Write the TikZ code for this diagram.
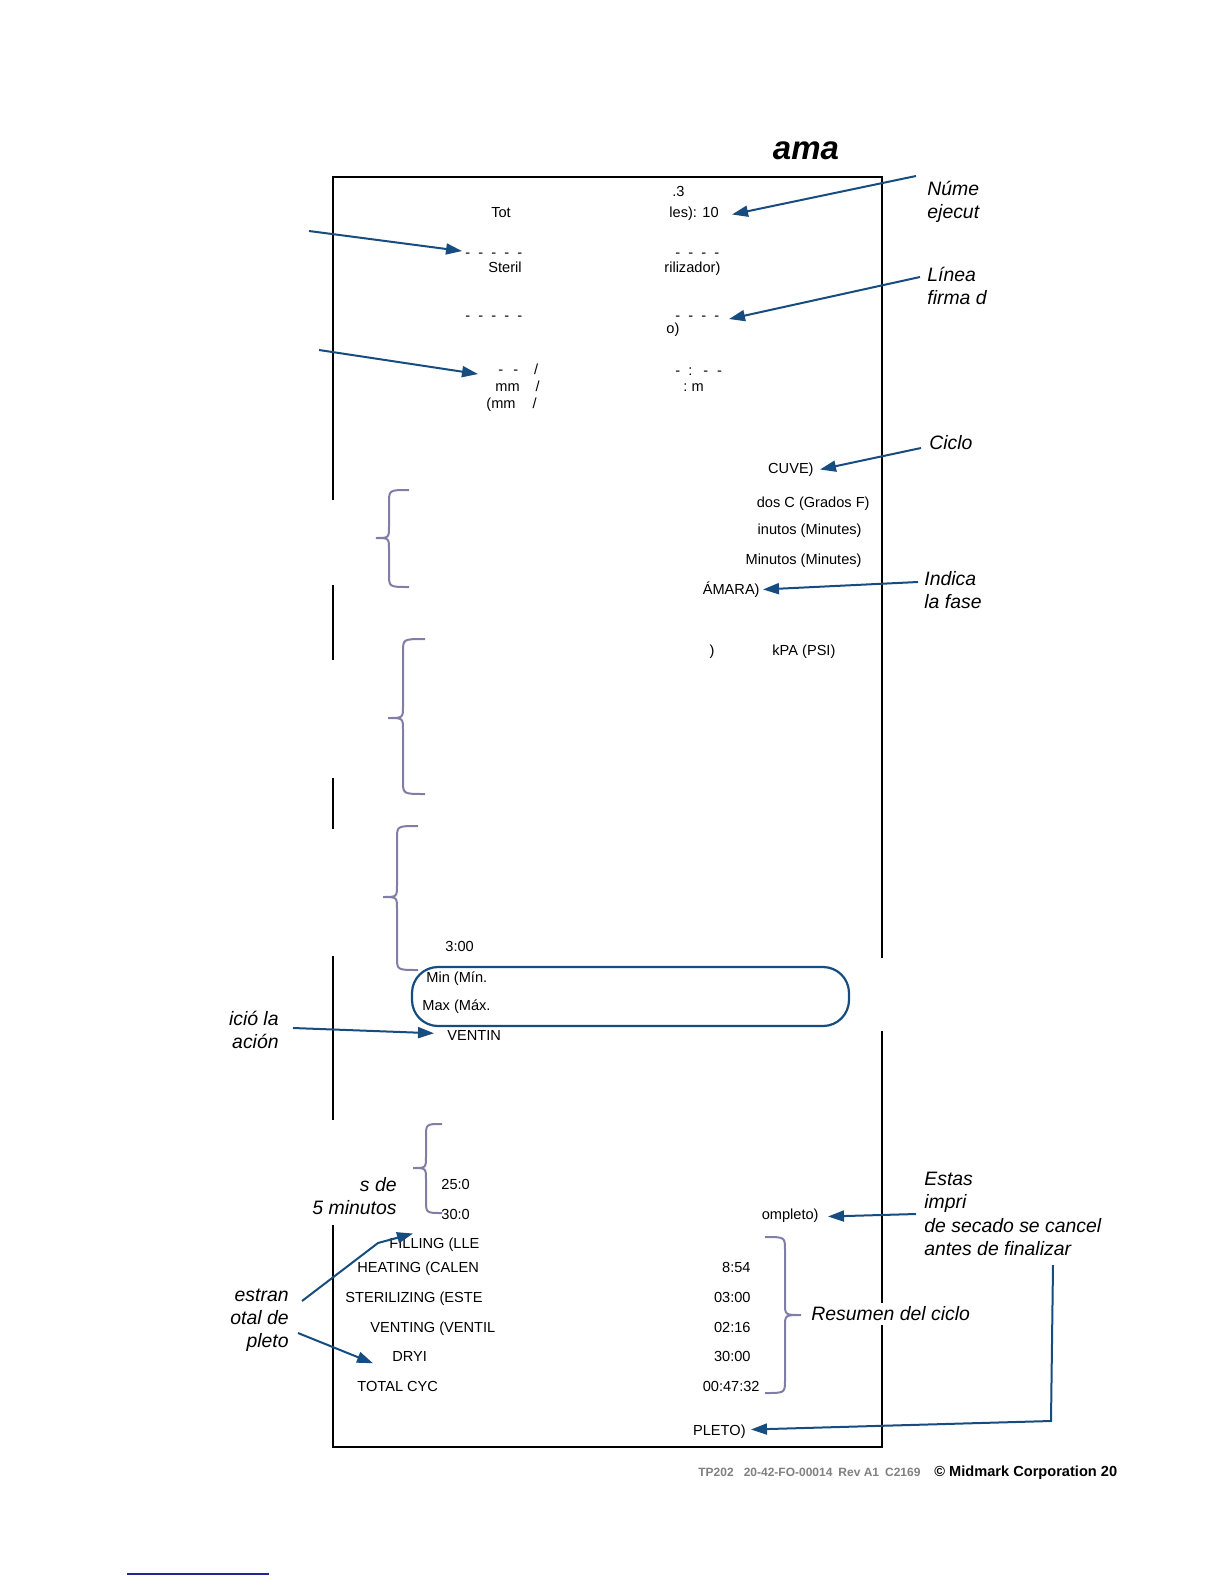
\documentclass[tikz,border=0pt]{standalone}
\usepackage{fontspec}
\setmainfont{Liberation Sans}
\usetikzlibrary{arrows.meta,calc}
\definecolor{arrowblue}{RGB}{22,76,128}
\definecolor{bracegray}{RGB}{128,126,166}
\definecolor{footgray}{RGB}{128,128,128}
\definecolor{linkblue}{RGB}{36,36,150}

\begin{document}
\begin{tikzpicture}[
    x=0.5pt, y=-0.5pt,
    prt/.style={font=\fontsize{7.3}{8.8}\selectfont, inner sep=0pt},
    note/.style={font=\fontsize{9.7}{11.6}\selectfont\itshape, inner sep=0pt},
    arrow/.style={-{Triangle[length=8pt,width=5.5pt]}, line width=1pt, draw=arrowblue},
    curly/.style={draw=bracegray, line width=1pt},
    paper/.style={draw=black, line width=0.6pt},
    pill/.style={draw=arrowblue, line width=1.1pt, rounded corners=13pt},
]
\useasboundingbox (0,0) rectangle (1224,1584);

% ── Title ──
\node[font=\fontsize{16.5}{20}\selectfont\bfseries\itshape, inner sep=0pt, anchor=mid] (title) at (806,154) {ama};

% ── Receipt frame ──
\draw[paper] (333,500) -- (333,177) -- (882,177) -- (882,958);
\draw[paper] (333,585) -- (333,660);
\draw[paper] (333,778) -- (333,829);
\draw[paper] (333,956) -- (333,1120);
\draw[paper] (333,1225) -- (333,1447) -- (882,1447) -- (882,1031);

% ── Header ──
\node[prt, anchor=mid west] (dot3) at (672,191) {.3};
\node[prt, anchor=mid] (tot) at (501,212) {Tot};
\node[prt, anchor=mid west] (les) at (669,212) {les): 10};
\node[prt, anchor=mid west] (dashA) at (465,252) {-~~-~~-~~-~~-};
\node[prt, anchor=mid west] (dashB) at (675,252) {-~~-~~-~~-};
\node[prt, anchor=mid] (steril) at (505,267) {Steril};
\node[prt, anchor=mid west] (riliz) at (664,267) {rilizador)};
\node[prt, anchor=mid west] (dashC) at (465,315) {-~~-~~-~~-~~-};
\node[prt, anchor=mid west] (dashD) at (675,315) {-~~-~~-~~-};
\node[prt, anchor=mid west] (oparen) at (666,328) {o)};

% ── Date and time ──
\node[prt, anchor=mid west] (date) at (498,369) {-\hspace{5pt}-\hspace{8pt}/};
\node[prt, anchor=mid west] (time) at (675,370) {-\hspace{4pt}:\hspace{5.5pt}-\hspace{4.5pt}-};
\node[prt, anchor=mid west] (mmA) at (495,386) {mm\hspace{8pt}/};
\node[prt, anchor=mid west] (hm) at (683,386) {:~m};
\node[prt, anchor=mid west] (mmB) at (486,403) {(mm\hspace{8.5pt}/};

% ── Cycle settings ──
\node[prt, anchor=mid east] (cuve) at (814,468) {CUVE)};
\node[prt, anchor=mid east] (grados) at (870,502) {dos C (Grados F)};
\node[prt, anchor=mid east] (inutos) at (862,529) {inutos (Minutes)};
\node[prt, anchor=mid east] (minutos) at (862,559) {Minutos (Minutes)};
\node[prt, anchor=mid east] (amara) at (760,589) {ÁMARA)};
\node[prt, anchor=mid] (paren) at (712,650) {)};
\node[prt, anchor=mid west] (kpa) at (772,650) {kPA (PSI)};

% ── Readings ──
\node[prt, anchor=mid west] (tthree) at (445,946) {3:00};
\node[prt, anchor=mid west] (vmin) at (426,977) {Min (Mín.};
\node[prt, anchor=mid west] (vmax) at (422,1005) {Max (Máx.};
\node[prt, anchor=mid west] (ventin) at (447,1035) {VENTIN};
\node[prt, anchor=mid west] (tfive) at (441,1184) {25:0};
\node[prt, anchor=mid west] (tthirty) at (441,1214) {30:0};
\node[prt, anchor=mid east] (ompleto) at (819,1214) {ompleto)};

% ── Summary ──
\node[prt, anchor=mid west] (filling) at (389,1243) {FILLING (LLE};
\node[prt, anchor=mid west] (heating) at (357,1267) {HEATING (CALEN};
\node[prt, anchor=mid west] (steriliz) at (345,1297) {STERILIZING (ESTE};
\node[prt, anchor=mid west] (venting) at (370,1327) {VENTING (VENTIL};
\node[prt, anchor=mid west] (dryi) at (392,1356) {DRYI};
\node[prt, anchor=mid west] (totcyc) at (357,1386) {TOTAL CYC};
\node[prt, anchor=mid east] (theat) at (751,1267) {8:54};
\node[prt, anchor=mid east] (tster) at (751,1297) {03:00};
\node[prt, anchor=mid east] (tvent) at (751,1327) {02:16};
\node[prt, anchor=mid east] (tdry) at (751,1356) {30:00};
\node[prt, anchor=mid east] (ttot) at (760,1386) {00:47:32};
\node[prt, anchor=mid east] (pleto) at (746,1430) {PLETO)};

% ── Highlight and braces ──
\draw[pill] (412,967) rectangle (849,1026);
\draw[curly] (409,490) .. controls (389,490) .. (389,503) -- (389,526) .. controls (389,538) .. (376,538) .. controls (389,538) .. (389,550) -- (389,574) .. controls (389,587) .. (409,587);
\draw[curly] (425,639) .. controls (403,639) .. (403,652) -- (403,706) .. controls (403,718) .. (388,718) .. controls (403,718) .. (403,730) -- (403,781) .. controls (403,794) .. (425,794);
\draw[curly] (418,826) .. controls (397,826) .. (397,839) -- (397,885) .. controls (397,897) .. (383,897) .. controls (397,897) .. (397,909) -- (397,957) .. controls (397,970) .. (418,970);
\draw[curly] (442,1124) .. controls (426,1124) .. (426,1137) -- (426,1156) .. controls (426,1168) .. (413,1168) .. controls (426,1168) .. (426,1180) -- (426,1200) .. controls (426,1213) .. (442,1213);
\draw[curly] (765,1237) .. controls (785,1237) .. (785,1250) -- (785,1303) .. controls (785,1315) .. (801,1315) .. controls (785,1315) .. (785,1327) -- (785,1380) .. controls (785,1393) .. (765,1393);

% ── Notes ──
\node[note, anchor=west, align=left] (nume) at (927,202) {Núme\\ejecut};
\node[note, anchor=west, align=left] (linea) at (927,286) {Línea\\firma d};
\node[note, anchor=west] (ciclo) at (929,443) {Ciclo};
\node[note, anchor=west, align=left] (indica) at (924,590) {Indica\\la fase};
\node[note, anchor=east, align=right] (icio) at (279,1030) {ició la\\ación};
\node[note, anchor=east, align=right] (sde) at (397,1196) {s de\\5 minutos};
\node[note, anchor=west, align=left] (estas) at (924,1214) {Estas\\impri\\de secado se cancel\\antes de finalizar};
\node[note, anchor=west, fill=white, inner ysep=2pt] (resumen) at (811,1314) {Resumen del ciclo};
\node[note, anchor=east, align=right] (estran) at (289,1320) {estran\\otal de\\pleto};

% ── Arrows ──
\coordinate (numeTail) at (916,176);
\coordinate (lineaTail) at (920,277);
\coordinate (leftTailA) at (309,231);
\coordinate (leftTailB) at (319,350);
\coordinate (cicloTail) at (921,448);
\coordinate (indicaTail) at (918,582);
\coordinate (icioTail) at (293,1028);
\coordinate (estasTail) at (916,1214);
\coordinate (estranTail) at (302,1301);
\coordinate (estranKink) at (378,1243);
\coordinate (pletoTail) at (298,1333);
\coordinate (finalTail) at (1053,1265);
\coordinate (finalCorner) at (1051,1421);

\draw[arrow] (numeTail) -- ($(les.west)+(63,1)$);
\draw[arrow] (leftTailA) -- ($(dashA.west)+(-3,-4)$);
\draw[arrow] (lineaTail) -- ($(dashD.west)+(54,1)$);
\draw[arrow] (leftTailB) -- ($(date.west)+(-20,5)$);
\draw[arrow] (cicloTail) -- ($(cuve.east)+(6,0)$);
\draw[arrow] (indicaTail) -- ($(amara.east)+(3,0)$);
\draw[arrow] (icioTail) -- ($(ventin.west)+(-13,-2)$);
\draw[arrow] (estasTail) -- ($(ompleto.east)+(9,1)$);
\draw[arrow] (estranTail) -- (estranKink) -- ($(filling.west)+(24,-11)$);
\draw[arrow] (pletoTail) -- ($(dryi.west)+(-19,7)$);
\draw[arrow] (finalTail) -- (finalCorner) -- ($(pleto.east)+(5,-2)$);

% ── Footer ──
\node[font=\fontsize{6}{7}\selectfont\bfseries, text=footgray, inner sep=0pt, anchor=mid west] (docid) at (698,1471) {TP202\hspace{5pt}20-42-FO-00014\hspace{3pt}Rev A1\hspace{3pt}C2169};
\node[font=\fontsize{7.3}{9}\selectfont\bfseries, inner sep=0pt, anchor=mid west] (copy) at (934,1471) {© Midmark Corporation 20};
\draw[linkblue, line width=0.8pt] (127,1574) -- (269,1574);

\end{tikzpicture}
\end{document}
